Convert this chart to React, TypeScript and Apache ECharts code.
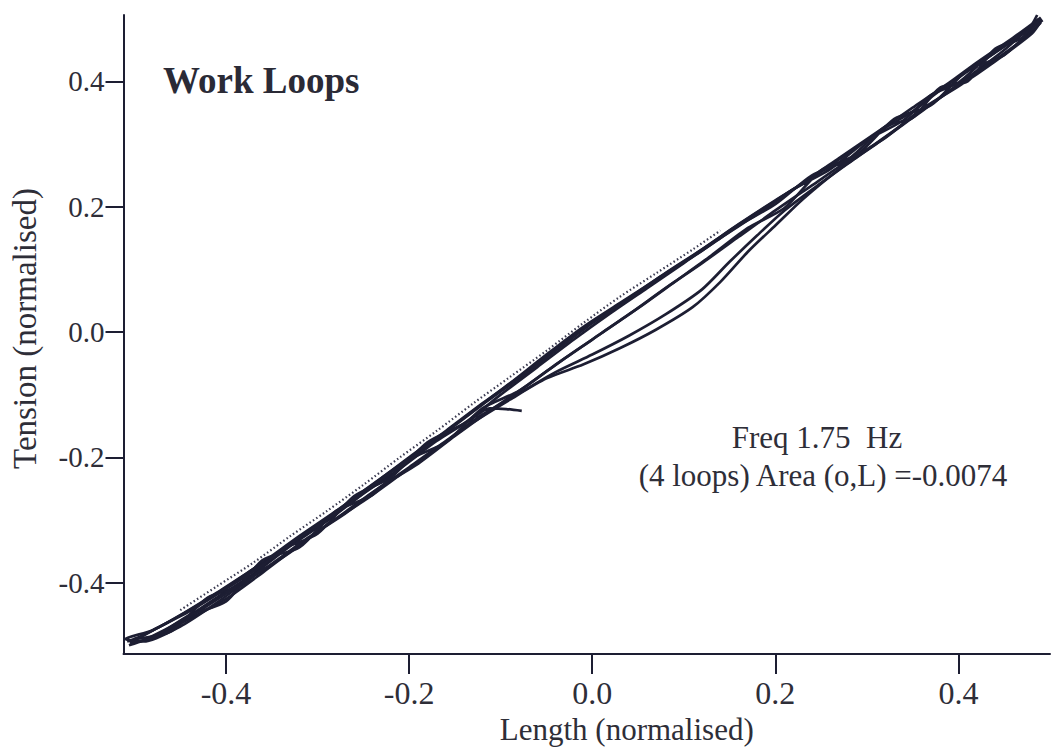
import React, { useEffect, useRef } from "react";
import * as echarts from "echarts";

// Axis ticks (normalised units)
const X_TICKS = [-0.4, -0.2, 0.0, 0.2, 0.4];
const Y_TICKS = [-0.4, -0.2, 0.0, 0.2, 0.4];

// Recorded work loops: [length, tension] pairs
const LOOP_1: [number, number][] = [
  [-0.077, -0.126], [-0.094, -0.123], [-0.112, -0.122], [-0.135, -0.142],
  [-0.17, -0.174], [-0.21, -0.218], [-0.25, -0.258], [-0.29, -0.302], [-0.33, -0.342], [-0.37, -0.386],
  [-0.41, -0.424], [-0.45, -0.462], [-0.49, -0.492], [-0.506, -0.5],
  [-0.48, -0.486], [-0.44, -0.458], [-0.4, -0.426], [-0.36, -0.384], [-0.32, -0.34], [-0.28, -0.298],
  [-0.24, -0.256], [-0.2, -0.216], [-0.16, -0.174], [-0.12, -0.132], [-0.08, -0.098], [-0.04, -0.064],
  [0.0, -0.036], [0.04, -0.006], [0.08, 0.028], [0.12, 0.068], [0.15, 0.112], [0.18, 0.154],
  [0.21, 0.194], [0.25, 0.238], [0.29, 0.28], [0.33, 0.322], [0.37, 0.364], [0.41, 0.406], [0.45, 0.45], [0.488, 0.5],
  [0.46, 0.47], [0.42, 0.43], [0.39, 0.398], [0.35, 0.358], [0.31, 0.318], [0.27, 0.278], [0.23, 0.238],
  [0.19, 0.2], [0.15, 0.162], [0.11, 0.122], [0.07, 0.084], [0.03, 0.046], [-0.01, 0.008], [-0.05, -0.036],
  [-0.09, -0.082], [-0.13, -0.126], [-0.17, -0.17], [-0.21, -0.212], [-0.25, -0.254], [-0.29, -0.298],
  [-0.33, -0.34], [-0.37, -0.378], [-0.41, -0.416], [-0.45, -0.452], [-0.49, -0.484], [-0.508, -0.494],
];

const LOOP_2: [number, number][] = [
  [0.49, 0.502], [0.47, 0.476], [0.44, 0.446], [0.41, 0.416], [0.38, 0.386], [0.35, 0.352], [0.32, 0.326],
  [0.28, 0.286], [0.24, 0.246], [0.2, 0.21], [0.16, 0.172], [0.12, 0.132], [0.08, 0.094], [0.04, 0.054],
  [0.0, 0.016], [-0.04, -0.028], [-0.08, -0.072], [-0.12, -0.114], [-0.16, -0.158], [-0.2, -0.2],
  [-0.24, -0.244], [-0.28, -0.286], [-0.32, -0.326], [-0.36, -0.368], [-0.4, -0.408], [-0.44, -0.444],
  [-0.48, -0.476], [-0.51, -0.49],
  [-0.49, -0.494], [-0.45, -0.47], [-0.41, -0.432], [-0.37, -0.39], [-0.33, -0.352], [-0.29, -0.308],
  [-0.25, -0.27], [-0.21, -0.228], [-0.17, -0.186], [-0.13, -0.144], [-0.09, -0.108], [-0.05, -0.074],
  [-0.01, -0.052], [0.03, -0.026], [0.07, 0.004], [0.11, 0.04], [0.14, 0.08], [0.17, 0.128], [0.2, 0.17],
  [0.23, 0.212], [0.27, 0.26], [0.31, 0.3], [0.35, 0.342], [0.39, 0.384], [0.43, 0.424], [0.47, 0.466], [0.49, 0.494],
];

const LOOP_3: [number, number][] = [
  [0.492, 0.498], [0.46, 0.466], [0.43, 0.436], [0.4, 0.398], [0.37, 0.378], [0.34, 0.338], [0.3, 0.306],
  [0.26, 0.26], [0.22, 0.228], [0.18, 0.188], [0.14, 0.15], [0.1, 0.11], [0.06, 0.07], [0.02, 0.03],
  [-0.02, -0.012], [-0.06, -0.056], [-0.1, -0.1], [-0.14, -0.146], [-0.18, -0.176], [-0.22, -0.232],
  [-0.26, -0.262], [-0.3, -0.322], [-0.34, -0.348], [-0.38, -0.402], [-0.42, -0.424], [-0.46, -0.478], [-0.5, -0.49],
  [-0.47, -0.482], [-0.43, -0.446], [-0.39, -0.408], [-0.35, -0.37], [-0.31, -0.328], [-0.27, -0.29],
  [-0.23, -0.246], [-0.19, -0.21], [-0.15, -0.166], [-0.11, -0.124], [-0.07, -0.084], [-0.03, -0.042],
  [0.01, -0.002], [0.05, 0.038], [0.09, 0.08], [0.13, 0.122], [0.17, 0.166], [0.21, 0.198], [0.25, 0.258],
  [0.29, 0.284], [0.33, 0.34], [0.37, 0.362], [0.41, 0.418], [0.45, 0.442], [0.49, 0.5],
];

const LOOP_4: [number, number][] = [
  [0.486, 0.506], [0.47, 0.47], [0.44, 0.452], [0.41, 0.4], [0.38, 0.39], [0.35, 0.342], [0.32, 0.328],
  [0.28, 0.276], [0.24, 0.25], [0.2, 0.204], [0.16, 0.17], [0.12, 0.13], [0.08, 0.092], [0.04, 0.052],
  [0.0, 0.014], [-0.04, -0.03], [-0.08, -0.074], [-0.12, -0.116], [-0.16, -0.16], [-0.2, -0.202],
  [-0.24, -0.246], [-0.28, -0.29], [-0.32, -0.328], [-0.36, -0.372], [-0.4, -0.41], [-0.44, -0.446],
  [-0.48, -0.476], [-0.505, -0.496],
  [-0.48, -0.488], [-0.44, -0.452], [-0.4, -0.43], [-0.36, -0.364], [-0.32, -0.344], [-0.28, -0.286],
  [-0.24, -0.26], [-0.2, -0.204], [-0.16, -0.176], [-0.12, -0.122], [-0.08, -0.094], [-0.04, -0.052],
  [0.0, -0.012], [0.04, 0.028], [0.08, 0.07], [0.12, 0.11], [0.16, 0.152], [0.2, 0.194], [0.24, 0.234],
  [0.28, 0.274], [0.32, 0.31], [0.36, 0.356], [0.4, 0.392], [0.44, 0.432], [0.48, 0.476], [0.49, 0.496],
];

// Faint sampled trace running along the top edge of the loops
const SAMPLED_TRACE: [number, number][] = [
  [-0.45, -0.444], [-0.41, -0.406], [-0.37, -0.368], [-0.33, -0.326], [-0.29, -0.286], [-0.25, -0.244],
  [-0.21, -0.2], [-0.17, -0.158], [-0.13, -0.114], [-0.09, -0.072], [-0.05, -0.03], [-0.01, 0.014],
  [0.03, 0.056], [0.07, 0.094], [0.11, 0.132], [0.14, 0.162],
];

const LOOPS = [LOOP_1, LOOP_2, LOOP_3, LOOP_4];

const INK = "#1d1e33";
const TEXT = "#2e2e38";
const SERIF = "'Liberation Serif', 'Times New Roman', serif";

export default function App() {
  const ref = useRef<HTMLDivElement>(null);

  useEffect(() => {
    if (!ref.current) return;
    const chart = echarts.init(ref.current, undefined, { renderer: "svg" });

    const loopSeries = LOOPS.map((data, i) => ({
      name: `Loop ${i + 1}`,
      type: "line",
      data,
      showSymbol: false,
      smooth: 0.25,
      clip: false,
      lineStyle: { color: INK, width: 2.7 },
      z: 3,
    }));

    chart.setOption({
      animation: false,
      backgroundColor: "#ffffff",
      grid: { left: 121, top: 15, width: 929, height: 639, containLabel: false },
      xAxis: {
        type: "value",
        min: -0.512,
        max: 0.5,
        name: "Length (normalised)",
        nameLocation: "middle",
        nameGap: 73,
        nameTextStyle: { fontFamily: SERIF, fontSize: 31, color: TEXT, verticalAlign: "middle", padding: [0, 0, 0, 80] },
        axisLine: { show: true, onZero: false, lineStyle: { color: INK, width: 2 } },
        axisTick: { show: true, inside: false, length: 20, customValues: X_TICKS, lineStyle: { color: INK, width: 2 } },
        axisLabel: {
          customValues: X_TICKS,
          formatter: (v: number) => v.toFixed(1),
          fontFamily: SERIF,
          fontSize: 32,
          color: TEXT,
          margin: 23,
        },
        splitLine: { show: false },
      },
      yAxis: {
        type: "value",
        min: -0.514,
        max: 0.506,
        name: "Tension (normalised)",
        nameLocation: "middle",
        nameGap: 99,
        nameRotate: 90,
        nameTextStyle: { fontFamily: SERIF, fontSize: 33, color: TEXT, verticalAlign: "middle", padding: [0, 0, 0, 12] },
        axisLine: { show: true, onZero: false, lineStyle: { color: INK, width: 2 } },
        axisTick: { show: true, inside: false, length: 18, customValues: Y_TICKS, lineStyle: { color: INK, width: 2 } },
        axisLabel: {
          customValues: Y_TICKS,
          formatter: (v: number) => v.toFixed(1),
          fontFamily: SERIF,
          fontSize: 29,
          color: TEXT,
          margin: 19,
        },
        splitLine: { show: false },
      },
      graphic: [
        {
          type: "text",
          left: 163,
          top: 62,
          style: { text: "Work Loops", font: `bold 37px ${SERIF}`, fill: "#2a2a36" },
        },
        {
          type: "text",
          x: 817,
          y: 437,
          style: { text: "Freq 1.75  Hz", font: `31px ${SERIF}`, fill: TEXT, textAlign: "center", textVerticalAlign: "middle" },
        },
        {
          type: "text",
          x: 823,
          y: 475,
          style: {
            text: "(4 loops) Area (o,L) =-0.0074",
            font: `31px ${SERIF}`,
            fill: TEXT,
            textAlign: "center",
            textVerticalAlign: "middle",
          },
        },
      ],
      series: [
        ...loopSeries,
        {
          name: "Sampled",
          type: "line",
          data: SAMPLED_TRACE,
          showSymbol: false,
          smooth: 0.3,
          lineStyle: { color: "#3a3a50", width: 2.2, type: [1.5, 2.5] },
          z: 2,
        },
      ],
    });

    return () => chart.dispose();
  }, []);

  return (
    <div
      ref={ref}
      style={{ position: "fixed", left: 0, top: 0, width: 1051, height: 754, background: "#ffffff" }}
    />
  );
}
